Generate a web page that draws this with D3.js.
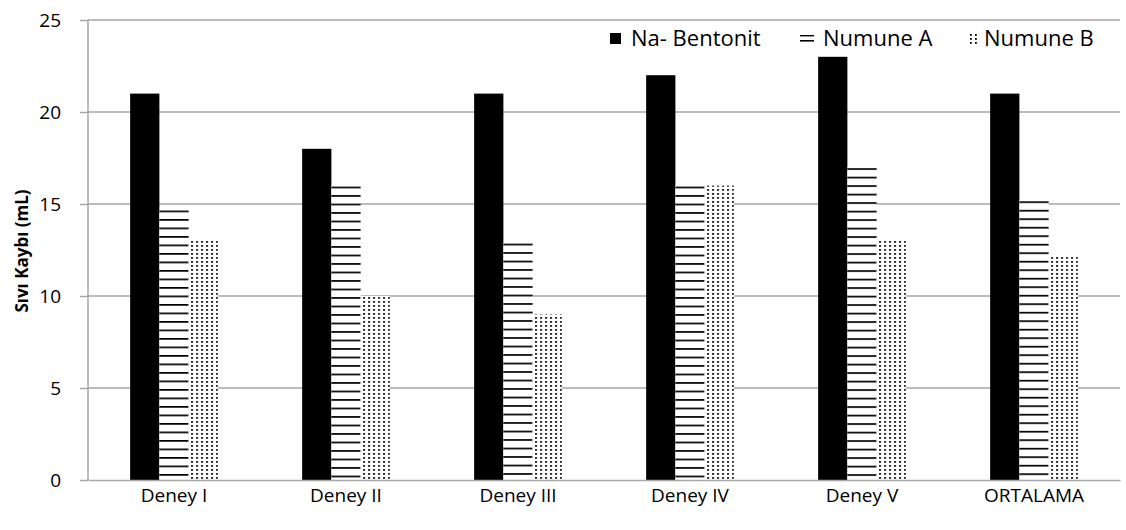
<!DOCTYPE html>
<html>
<head>
<meta charset="utf-8">
<script src="https://cdn.jsdelivr.net/npm/d3@7"></script>
<style>
  body { margin: 0; background: #fff; }
  svg { display: block; font-family: "Open Sans", "Noto Sans", sans-serif; }
</style>
</head>
<body>
<svg id="chart" width="1126" height="530"></svg>
<script>
const categories = ['Deney I', 'Deney II', 'Deney III', 'Deney IV', 'Deney V', 'ORTALAMA']
const seriesNames = ['Na- Bentonit', 'Numune A', 'Numune B']
const naBentonit = [21, 18, 21, 22, 23, 21]
const numuneA = [14.7, 16, 12.9, 16, 17, 15.2]
const numuneB = [13, 10, 9, 16, 13, 12.2]
const yTicks = [0, 5, 10, 15, 20, 25]

const series = [naBentonit, numuneA, numuneB]

const margins = { top: 20, right: 6, bottom: 50, left: 88 }
const width = 1126 - margins.left - margins.right
const height = 530 - margins.top - margins.bottom

const svg = d3.select('#chart')

const x0 = d3.scaleBand().domain(categories).range([0, width])
const barW = x0.bandwidth() * 0.17
const x1 = d3.scaleBand().domain(d3.range(series.length)).range([0, barW * 3])
const y = d3.scaleLinear().domain([0, 25]).range([height, 0])

// patterns: horizontal lines start at each bar's top, dots shared
const defs = svg.append('defs')
numuneA.forEach((v, i) => {
	const p = defs.append('pattern').attr('id', 'hlines' + i)
		.attr('patternUnits', 'userSpaceOnUse')
		.attr('y', y(v) + 1).attr('width', 8).attr('height', 8.5)
	p.append('rect').attr('width', 8).attr('height', 8.5).attr('fill', '#fff')
	p.append('rect').attr('width', 8).attr('height', 1.7).attr('fill', '#000')
})
const dp = defs.append('pattern').attr('id', 'dots')
	.attr('patternUnits', 'userSpaceOnUse').attr('width', 5).attr('height', 4)
dp.append('rect').attr('width', 5).attr('height', 4).attr('fill', '#fff')
dp.append('rect').attr('x', 1).attr('y', 1).attr('width', 1.8).attr('height', 1.8).attr('fill', '#000')

const fill = (si, i) => si === 0 ? '#000' : si === 1 ? `url(#hlines${i})` : 'url(#dots)'

const g = svg.append('g').attr('transform', `translate(${margins.left},${margins.top})`)

// gridlines
g.append('g').selectAll('line').data(yTicks.filter(d => d > 0)).enter().append('line')
	.attr('x1', 0).attr('x2', width)
	.attr('y1', d => y(d)).attr('y2', d => y(d))
	.attr('stroke', '#a6a6a6').attr('stroke-width', 1.5)

// y axis
const yAxis = g.append('g')
	.call(d3.axisLeft(y).tickValues(yTicks).tickSize(8).tickPadding(19))
yAxis.select('.domain').attr('stroke', '#a6a6a6').attr('stroke-width', 1.5).attr('d', `M0,${height}V0`)
yAxis.selectAll('.tick line').attr('stroke', '#a6a6a6').attr('stroke-width', 1.5)
yAxis.selectAll('.tick text').attr('font-size', 19).attr('fill', '#000')
	.attr('font-family', '"Open Sans", sans-serif').attr('dy', '0.36em')

// bars
const groups = g.selectAll('.grp').data(categories).enter().append('g')
	.attr('transform', d => `translate(${x0(d) + (x0.bandwidth() - barW * 3) / 2},0)`)

series.forEach((vals, si) => {
	groups.append('rect')
		.attr('x', x1(si))
		.attr('width', x1.bandwidth())
		.attr('y', (d, i) => y(vals[i]))
		.attr('height', (d, i) => height - y(vals[i]))
		.attr('fill', (d, i) => fill(si, i))
})

// x axis
const xAxis = g.append('g').attr('transform', `translate(0,${height})`)
	.call(d3.axisBottom(x0).tickSize(0).tickPadding(9))
xAxis.select('.domain').attr('stroke', '#a6a6a6').attr('stroke-width', 1.5)
xAxis.selectAll('.tick text').attr('font-size', 19).attr('fill', '#000')
	.attr('font-family', '"Open Sans", sans-serif')

// y label
svg.append('text')
	.attr('transform', `translate(28,251) rotate(-90)`)
	.attr('text-anchor', 'middle')
	.attr('font-size', 17).attr('font-weight', 'bold')
	.text('Sıvı Kaybı (mL)')

// legend
const legendX = [610, 800, 969]
const legend = svg.append('g')
seriesNames.forEach((name, i) => {
	const lg = legend.append('g').attr('transform', `translate(${legendX[i]},33)`)
	if (i === 0) {
		lg.append('rect').attr('width', 11).attr('height', 11).attr('fill', '#000')
	} else if (i === 1) {
		lg.append('rect').attr('y', 2).attr('width', 14).attr('height', 1.4).attr('fill', '#000')
		lg.append('rect').attr('y', 7).attr('width', 14).attr('height', 1.6).attr('fill', '#000')
	} else {
		lg.append('rect').attr('x', 1).attr('width', 10).attr('height', 11).attr('fill', 'url(#dots)')
	}
	lg.append('text').attr('x', i === 0 ? 21 : (i === 1 ? 23 : 15)).attr('y', 12.5)
		.attr('font-size', 22).text(name)
})
</script>
</body>
</html>
